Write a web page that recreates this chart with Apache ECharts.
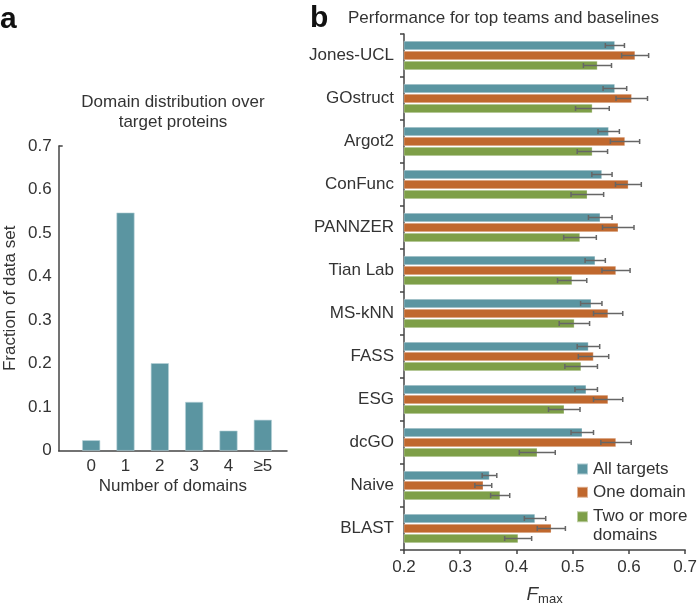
<!DOCTYPE html>
<html>
<head>
<meta charset="utf-8">
<script src="https://cdn.jsdelivr.net/npm/echarts@6/dist/echarts.min.js"></script>
<style>
  html, body { margin: 0; padding: 0; background: #fff; }
  #main { width: 700px; height: 611px; }
</style>
</head>
<body>
<div id="main"></div>
<script>
// panel a
var domainCats = ['0', '1', '2', '3', '4', '\u22655'];
var domainFrac = [0.024, 0.547, 0.201, 0.112, 0.046, 0.071];
var fracTicks = [0, 0.1, 0.2, 0.3, 0.4, 0.5, 0.6, 0.7];

// panel b
var teams = ['Jones-UCL', 'GOstruct', 'Argot2', 'ConFunc', 'PANNZER', 'Tian Lab',
  'MS-kNN', 'FASS', 'ESG', 'dcGO', 'Naive', 'BLAST'];
var seriesNames = ['All targets', 'One domain', 'Two or more domains'];
var allTargets = [0.575, 0.575, 0.564, 0.552, 0.549, 0.540, 0.533, 0.528, 0.524, 0.517, 0.352, 0.433];
var allErr = [0.017, 0.021, 0.019, 0.018, 0.021, 0.018, 0.019, 0.020, 0.020, 0.020, 0.013, 0.019];
var oneDomain = [0.611, 0.605, 0.593, 0.599, 0.581, 0.577, 0.563, 0.537, 0.563, 0.577, 0.341, 0.462];
var oneErr = [0.024, 0.028, 0.026, 0.023, 0.028, 0.025, 0.026, 0.027, 0.026, 0.027, 0.015, 0.025];
var twoDomains = [0.544, 0.535, 0.535, 0.526, 0.513, 0.499, 0.503, 0.515, 0.485, 0.437, 0.371, 0.403];
var twoErr = [0.025, 0.030, 0.027, 0.029, 0.029, 0.026, 0.027, 0.029, 0.028, 0.032, 0.017, 0.024];
var fmaxTicks = [0.2, 0.3, 0.4, 0.5, 0.6, 0.7];

var colors = ['#5b95a1', '#c0682e', '#7e9f48'];
var FONT = '"Liberation Sans", Arial, sans-serif';
var TXT = '#333';
var AXIS = '#444';
var BAR_H = 9;

function errData(vals, errs) {
  var out = [];
  for (var i = 0; i < vals.length; i++) {
    out.push([vals[i] - errs[i], vals[i] + errs[i], i]);
  }
  return out;
}

function errRender(s) {
  return function(params, api) {
    var lo = api.coord([api.value(0), api.value(2)]);
    var hi = api.coord([api.value(1), api.value(2)]);
    var y = lo[1] + (s - 1) * (BAR_H + 1);
    var st = { stroke: '#666', lineWidth: 1.5 };
    return {
      type: 'group',
      children: [
        { type: 'line', shape: { x1: lo[0], y1: y, x2: hi[0], y2: y }, style: st },
        { type: 'line', shape: { x1: lo[0], y1: y - 2.5, x2: lo[0], y2: y + 2.5 }, style: st },
        { type: 'line', shape: { x1: hi[0], y1: y - 2.5, x2: hi[0], y2: y + 2.5 }, style: st }
      ]
    };
  };
}

var barVals = [allTargets, oneDomain, twoDomains];
var errVals = [allErr, oneErr, twoErr];
var series = [];

series.push({
  type: 'bar', xAxisIndex: 0, yAxisIndex: 0, data: domainFrac, barWidth: 18,
  itemStyle: { color: colors[0], borderColor: '#b7d2d8', borderWidth: 0.6 }
});

for (var s = 0; s < 3; s++) {
  series.push({
    name: seriesNames[s], type: 'bar', xAxisIndex: 2, yAxisIndex: 2,
    data: barVals[s], barWidth: BAR_H, barGap: '11%',
    itemStyle: { color: colors[s], borderColor: 'rgba(255,255,255,0.5)', borderWidth: 0.6 }
  });
}
for (var k = 0; k < 3; k++) {
  series.push({
    type: 'custom', xAxisIndex: 2, yAxisIndex: 2, z: 5,
    renderItem: errRender(k),
    encode: { x: [0, 1], y: 2 },
    data: errData(barVals[k], errVals[k]),
    silent: true
  });
}

var lblStyle = { fontFamily: FONT, fontSize: 17, color: TXT };

var option = {
  animation: false,
  textStyle: { fontFamily: FONT },
  grid: [
    { left: 74, width: 206, top: 146, bottom: 160.3 },
    { left: 58.7, width: 228.3, top: 146, bottom: 160.3 },
    { left: 404, right: 12, top: 34, bottom: 58 }
  ],
  xAxis: [
    {
      type: 'category', gridIndex: 0, data: domainCats,
      axisLine: { show: false }, axisTick: { show: false },
      axisLabel: Object.assign({ margin: 7 }, lblStyle)
    },
    {
      type: 'value', gridIndex: 1, min: 0, max: 1,
      axisLine: { show: true, lineStyle: { color: AXIS, width: 1.5 } },
      axisTick: { show: false }, axisLabel: { show: false }, splitLine: { show: false },
      name: 'Number of domains', nameLocation: 'middle', nameGap: 27,
      nameTextStyle: lblStyle
    },
    {
      type: 'value', gridIndex: 2, min: 0.2, max: 0.7, interval: 0.1,
      axisLine: { show: true, lineStyle: { color: AXIS, width: 1.5 } },
      axisTick: { show: true, length: 4, lineStyle: { color: AXIS, width: 1.5 } },
      axisLabel: Object.assign({ margin: 9, customValues: fmaxTicks, formatter: function(v) { return v.toFixed(1); } }, lblStyle),
      splitLine: { show: false },
      name: '{f|F}{m|max}', nameLocation: 'middle', nameGap: 34,
      nameTextStyle: {
        rich: {
          f: { fontFamily: FONT, fontSize: 19, fontStyle: 'italic', color: TXT },
          m: { fontFamily: FONT, fontSize: 13, color: TXT, padding: [9, 0, 0, 0] }
        }
      }
    }
  ],
  yAxis: [
    { type: 'value', gridIndex: 0, min: 0, max: 0.7, show: false },
    {
      type: 'value', gridIndex: 1, min: 0, max: 0.7, interval: 0.1,
      axisLine: { show: true, lineStyle: { color: AXIS, width: 1.5 } },
      axisTick: { show: true, inside: true, length: 4, customValues: [0.7], lineStyle: { color: AXIS, width: 1.5 } },
      axisLabel: Object.assign({ margin: 7, customValues: fracTicks }, lblStyle),
      splitLine: { show: false },
      name: 'Fraction of data set', nameLocation: 'middle', nameGap: 40,
      nameTextStyle: lblStyle
    },
    {
      type: 'category', gridIndex: 2, data: teams, inverse: true,
      axisLine: { show: true, lineStyle: { color: AXIS, width: 1.5 } },
      axisTick: { show: true, length: 4, lineStyle: { color: AXIS, width: 1.5 } },
      axisLabel: Object.assign({ margin: 10 }, lblStyle)
    }
  ],
  legend: [
    {
      data: ['All targets', 'One domain'], orient: 'vertical', left: 576, top: 459.75,
      padding: 0, itemWidth: 11, itemHeight: 11, itemGap: 4.8, icon: 'rect',
      textStyle: { fontFamily: FONT, fontSize: 17, color: TXT, lineHeight: 18.5 }
    },
    {
      // blank first line keeps the icon level with "Two or more"
      data: ['Two or more domains'],
      orient: 'vertical', left: 576, top: 489, padding: 0,
      itemWidth: 11, itemHeight: 11, icon: 'rect',
      formatter: function() { return '\u00a0\nTwo or more\ndomains'; },
      textStyle: { fontFamily: FONT, fontSize: 17, color: TXT, lineHeight: 18.5 }
    }
  ],
  graphic: [
    { type: 'text', left: 0, top: 5, style: { text: 'a', font: 'bold 30px ' + FONT, fill: '#111' } },
    { type: 'text', left: 310, top: 4, style: { text: 'b', font: 'bold 30px ' + FONT, fill: '#111' } },
    {
      type: 'text', x: 173, y: 92, style: {
        text: 'Domain distribution over\ntarget proteins', font: '17px ' + FONT,
        fill: TXT, align: 'center', verticalAlign: 'top', lineHeight: 20
      }
    },
    {
      type: 'text', x: 348, y: 18.5, style: {
        text: 'Performance for top teams and baselines', font: '17px ' + FONT,
        fill: TXT, align: 'left', verticalAlign: 'middle'
      }
    }
  ],
  series: series
};

var chart = echarts.init(document.getElementById('main'));
chart.setOption(option);
</script>
</body>
</html>
